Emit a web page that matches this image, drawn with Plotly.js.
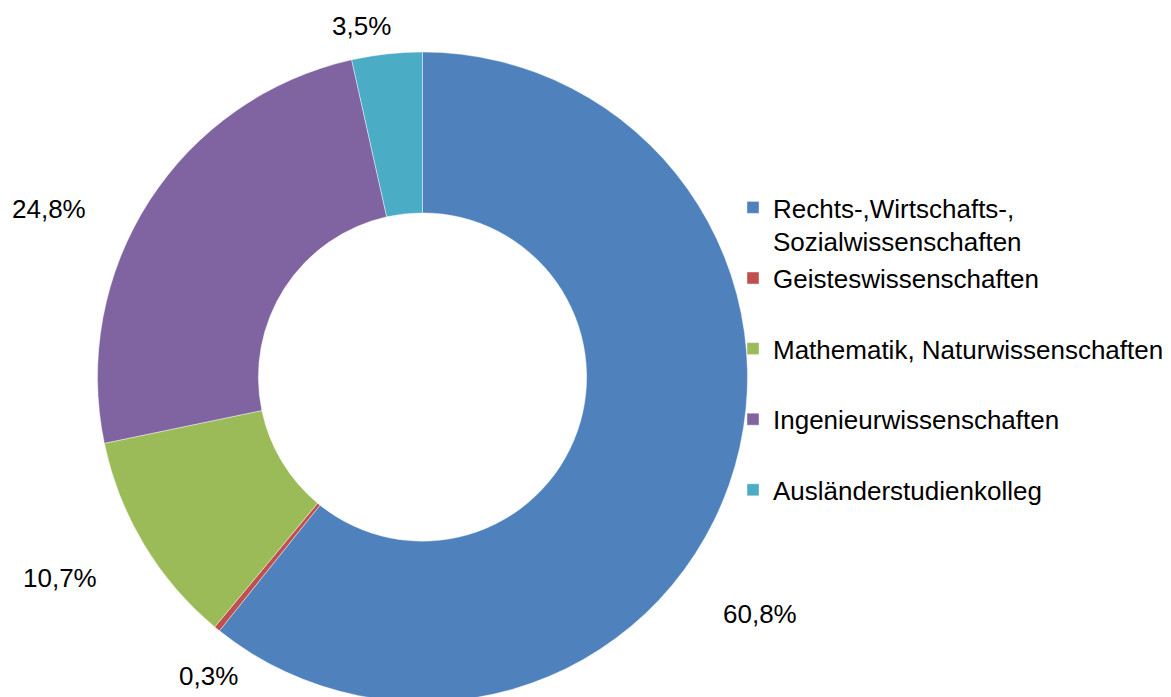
<!DOCTYPE html>
<html>
<head>
<meta charset="utf-8">
<script src="https://cdn.plot.ly/plotly-3.0.1.min.js"></script>
<style>
html, body { margin: 0; padding: 0; overflow: hidden; background: #fff; }
#chart { width: 1171px; height: 710px; }
</style>
</head>
<body>
<div id="chart"></div>
<script>
// Data
const categories = [
  "Rechts-,Wirtschafts-,<br>Sozialwissenschaften",
  "Geisteswissenschaften<br> ",
  "Mathematik, Naturwissenschaften<br> ",
  "Ingenieurwissenschaften<br> ",
  "Ausländerstudienkolleg<br> "
];
const shares = [60.8, 0.3, 10.7, 24.8, 3.5];
const sliceColors = ["#4F81BD", "#C0504D", "#9BBB59", "#8064A2", "#4BACC6"];

// Layout-only: anchor points of the data labels (pixels)
const W = 1171, H = 710;
const labelAnchors = [[760, 614], [208, 676], [60, 578], [49, 209], [361, 26]];

const fmt = v => v.toFixed(1).replace(".", ",") + "%";

const trace = {
  type: "pie",
  labels: categories,
  values: shares,
  sort: false,
  direction: "clockwise",
  rotation: 0,
  hole: 0.505,
  textinfo: "none",
  hoverinfo: "label+percent",
  marker: { colors: sliceColors, line: { color: "rgba(255,255,255,0.6)", width: 0.7 } },
  domain: { x: [97.5 / W, 747.5 / W], y: [(H - 702) / H, (H - 52) / H] }
};

const annotations = shares.map((v, i) => ({
  xref: "paper", yref: "paper",
  x: labelAnchors[i][0] / W, y: 1 - labelAnchors[i][1] / H,
  xanchor: "center", yanchor: "middle",
  text: fmt(v), showarrow: false,
  font: { family: "Liberation Sans, Arial, sans-serif", size: 26, color: "#000" }
}));

const layout = {
  width: W, height: H,
  margin: { l: 0, r: 0, t: 0, b: 0, autoexpand: false },
  paper_bgcolor: "#fff",
  font: { family: "Liberation Sans, Arial, sans-serif", color: "#000" },
  showlegend: true,
  legend: {
    x: 733 / W, y: 1 - 184 / H, xanchor: "left", yanchor: "top",
    font: { size: 26, color: "#000" },
    valign: "top",
    bgcolor: "rgba(0,0,0,0)"
  },
  annotations: annotations
};

Plotly.newPlot("chart", [trace], layout, { displayModeBar: false, staticPlot: true });
</script>
</body>
</html>
